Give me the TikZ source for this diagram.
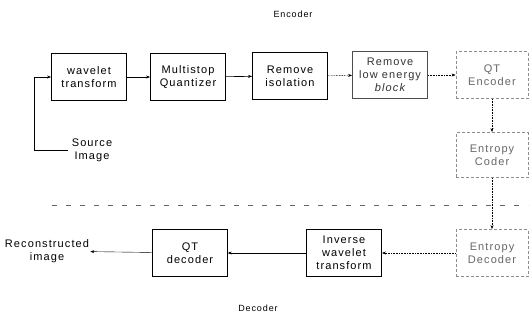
\documentclass[tikz,border=0pt]{standalone}
\usepackage{fontspec}
\setmainfont{Liberation Sans}[LetterSpace=10]
\usetikzlibrary{positioning}
\usetikzlibrary{arrows.meta}
\tikzset{blk/.style = {draw, thick, align=center, minimum width=75, minimum height=47,
                       inner sep=1pt, font=\fontsize{11}{13}\selectfont}}
\tikzset{faint/.style = {blk, draw=black!45, densely dashed, text=black!60}}
\tikzset{lbl/.style = {align=center, font=\fontsize{11}{13}\selectfont}}
\tikzset{flow/.style = {-{Stealth[length=4pt,width=3pt]}, semithick}}
\tikzset{dflow/.style = {flow, densely dotted}}

\begin{document}
\begin{tikzpicture}[x=1pt, y=-1pt]
      \useasboundingbox (0,0) rectangle (530,324);
      \node[lbl, font=\fontsize{9}{11}\selectfont] (enc) at (293,14) {Encoder};
      \node[lbl, font=\fontsize{9}{11}\selectfont] (dec) at (258,308) {Decoder};
      % encoder row
      \node[blk] (wt) at (89,77) {wavelet\\transform};
      \node[blk] (mq) at (188,77) {Multistop\\Quantizer};
      \node[blk] (ri) at (290,76) {Remove\\isolation};
      \node[blk, draw=black!70, text=black!80] (rle) at (390,75)
        {Remove\\low energy\\{\itshape block}};
      \node[faint, minimum width=72] (qte) at (492,75) {QT\\Encoder};
      \node[faint, minimum width=72, minimum height=45] (ec) at (492,155) {Entropy\\Coder};
      % decoder row
      \node[faint, minimum width=72] (ed) at (492,253) {Entropy\\Decoder};
      \node[blk] (iwt) at (344,253) {Inverse\\wavelet\\transform};
      \node[blk, thin] (qtd) at (190,253) {QT\\decoder};
      \node[lbl] (src) at (92,150) {Source\\Image};
      \node[lbl, inner sep=1pt] (rec) at (47,251) {Reconstructed\\image};
      \coordinate (srcfoot) at (34,150);
      \coordinate (sepl) at (52,205);
      \coordinate (sepr) at (528,205);
      \draw[flow] (src.west) -- (srcfoot) |- (wt.west);
      \draw[flow] (wt) -- (mq);
      \draw[flow] (mq) -- (ri);
      \draw[dflow] (ri) -- (rle);
      \draw[dflow] (rle) -- (qte);
      \draw[dflow] (qte) -- (ec);
      \draw[dflow] (ec) -- (ed);
      \draw[dflow] (ed) -- (iwt);
      \draw[flow, thin] (iwt) -- (qtd);
      \draw[flow, thin] (qtd) -- (rec);
      \draw[black!60, dash pattern=on 5pt off 9pt] (sepl) -- (sepr);
    \end{tikzpicture}
\end{document}
